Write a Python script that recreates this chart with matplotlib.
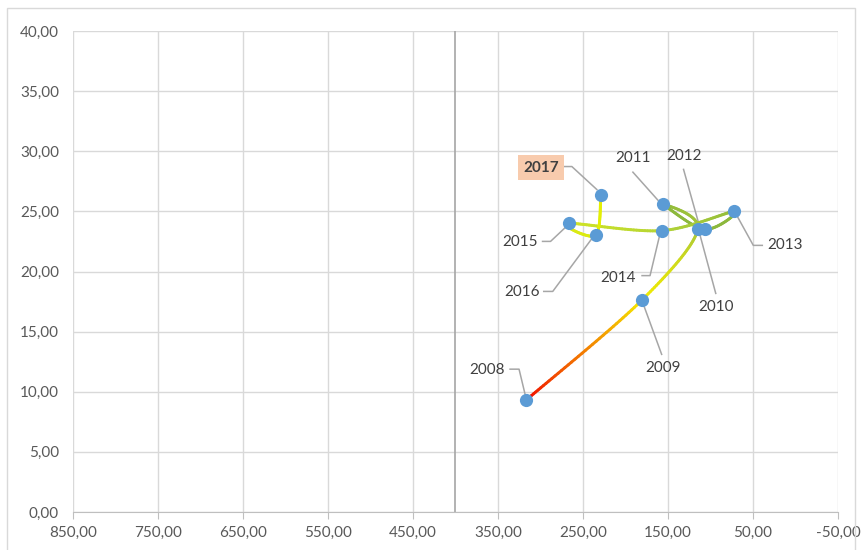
import numpy as np
import matplotlib
matplotlib.use('Agg')
import matplotlib.pyplot as plt
from matplotlib.collections import LineCollection
from matplotlib.colors import to_rgb
from matplotlib.patches import Rectangle

plt.rcParams['font.family'] = ['Lato', 'DejaVu Sans']

# data
years = ['2008', '2009', '2010', '2011', '2012', '2013', '2014', '2015', '2016', '2017']
x_vals = [317, 181, 115, 156, 107, 72, 157, 267, 235, 229]
y_vals = [9.3, 17.6, 23.5, 25.6, 23.5, 25.0, 23.4, 24.0, 23.0, 26.4]
point_colors = ['#f00000', '#f5ec00', '#a8c83a', '#8cb83c', '#8cb83c', '#8cb83c',
                '#b4d436', '#d4e622', '#e0ee08', '#e6f000']
x_ticks = [850, 750, 650, 550, 450, 350, 250, 150, 50, -50]
y_ticks = [0, 5, 10, 15, 20, 25, 30, 35, 40]

# label offsets (pixels from the point) and leader paths
label_off = {
    '2008': (-39, -30), '2009': (21, 68), '2010': (18, 78), '2011': (-30, -46),
    '2012': (-21, -73), '2013': (51, 34), '2014': (-44, 47), '2015': (-49, 19),
    '2016': (-74, 57), '2017': (-60, -27),
}
leader = {
    '2008': [(-16, -31), (-7, -31), (-1, -6)],
    '2009': [(20, 54), (1, 2)],
    '2010': [(18, 64), (1, 1)],
    '2011': [(-30, -32), (-5, -4)],
    '2012': [(-21, -60), (-5, -3)],
    '2013': [(28, 34), (19, 34), (3, 5)],
    '2014': [(-20, 45), (-12, 45), (-2, 3)],
    '2015': [(-26, 18), (-18, 18), (-1, 2)],
    '2016': [(-52, 56), (-43, 56), (-3, 2)],
    '2017': [(-38, -28), (-29, -28), (-4, -5)],
}

W, H = 862, 550
fig = plt.figure(figsize=(W / 100, H / 100), dpi=100)
ax = fig.add_axes([73 / W, 1 - 512 / H, (838 - 73) / W, (512 - 31) / H])
fig.patches.append(Rectangle((7 / W, -0.01), 1 - 14 / W, 1 - 8 / H + 0.01,
                             transform=fig.transFigure, fill=False,
                             edgecolor='#d9d9d9', lw=1))

ax.set_xlim(850, -50)
ax.set_ylim(0, 40)
ax.set_xticks(x_ticks)
ax.set_yticks(y_ticks)
ax.set_xticklabels([f"{v:.2f}".replace('.', ',') for v in x_ticks])
ax.set_yticklabels([f"{v:.2f}".replace('.', ',') for v in y_ticks])
ax.tick_params(axis='x', length=5, color='#bfbfbf', labelcolor='#595959', labelsize=11, pad=5)
ax.tick_params(axis='y', length=0, labelcolor='#595959', labelsize=11, pad=10)
ax.grid(True, color='#d9d9d9', lw=1)
ax.set_axisbelow(True)
for s in ['top', 'right', 'left']:
    ax.spines[s].set_visible(False)
ax.spines['bottom'].set_color('#bfbfbf')
ax.axvline(400, color='#a6a6a6', lw=1.2, zorder=1)

# smoothed path (Bezier like Excel smoothing), computed in pixel space
disp = ax.transData.transform(np.column_stack([x_vals, y_vals]))
n = len(disp)
segs, cols = [], []
for i in range(n - 1):
    p0 = disp[max(i - 1, 0)]
    p1 = disp[i]
    p2 = disp[i + 1]
    p3 = disp[min(i + 2, n - 1)]
    c1 = p1 + (p2 - p0) / 6
    c2 = p2 - (p3 - p1) / 6
    t = np.linspace(0, 1, 40)[:, None]
    curve = ((1 - t) ** 3) * p1 + 3 * ((1 - t) ** 2) * t * c1 + 3 * (1 - t) * t ** 2 * c2 + t ** 3 * p2
    curve = ax.transData.inverted().transform(curve)
    ca = np.array(to_rgb(point_colors[i]))
    cb = np.array(to_rgb(point_colors[i + 1]))
    for k in range(len(curve) - 1):
        segs.append(curve[k:k + 2])
        f = (k + 0.5) / (len(curve) - 1)
        cols.append(ca * (1 - f) + cb * f)
lc = LineCollection(segs, colors=cols, linewidths=2.1, capstyle='round', zorder=3)
ax.add_collection(lc)

ax.plot(x_vals, y_vals, 'o', color='#5b9bd5', markersize=9.5, markeredgewidth=0, zorder=4)

inv = ax.transData.inverted()
for i, yr in enumerate(years):
    px, py = disp[i]
    pts = [inv.transform((px + dx, py - dy)) for dx, dy in leader[yr]]
    pts = np.array(pts)
    ax.plot(pts[:, 0], pts[:, 1], color='#a6a6a6', lw=1.1, zorder=2, clip_on=False)
    dx, dy = label_off[yr]
    lx, ly = inv.transform((px + dx, py - dy))
    if yr == '2017':
        ax.text(lx, ly, yr, ha='center', va='center', fontsize=11, color='#404040',
                fontweight='bold', zorder=5,
                bbox=dict(boxstyle='square,pad=0.35', facecolor='#f8cbad', edgecolor='none'))
    else:
        ax.text(lx, ly, yr, ha='center', va='center', fontsize=11, color='#404040', zorder=5)

fig.savefig('out.png', dpi=100)
